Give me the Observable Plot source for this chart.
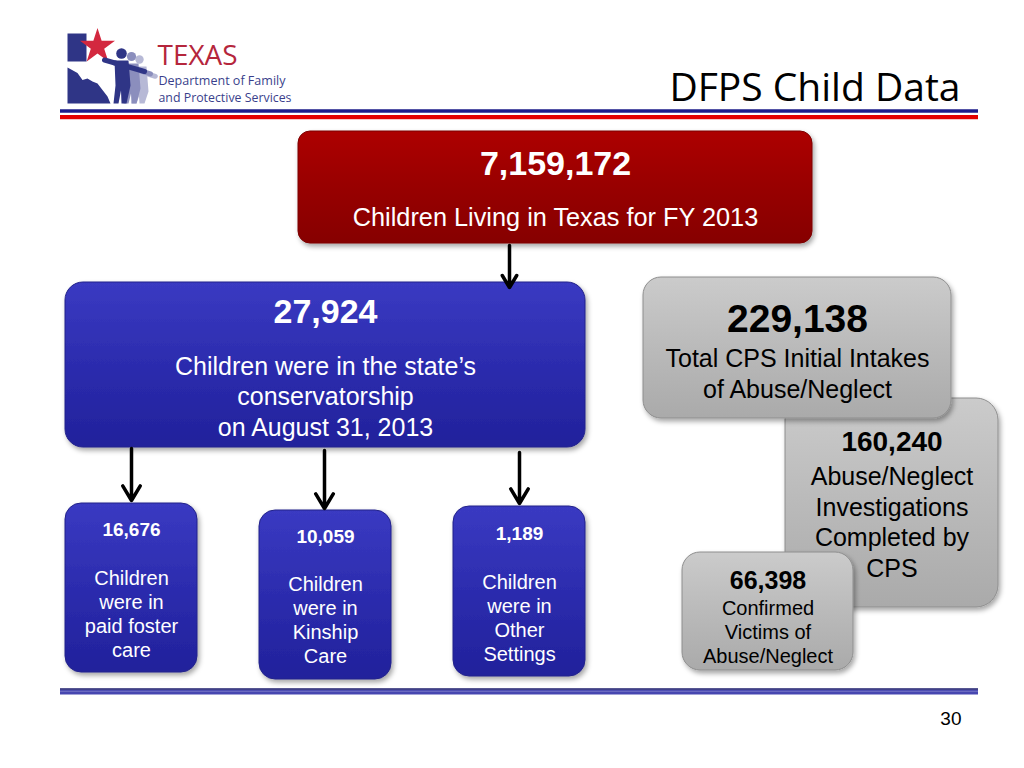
<!DOCTYPE html>
<html>
<head>
<meta charset="utf-8">
<script src="https://cdn.jsdelivr.net/npm/d3@7"></script>
<script src="https://cdn.jsdelivr.net/npm/@observablehq/plot@0.6"></script>
<style>
  html, body { margin: 0; padding: 0; background: #fff; }
  #chart svg { display: block; }
</style>
</head>
<body>
<div id="chart"></div>
<script>
// ---------------- DATA ----------------
const boxIds = ["texas", "conservatorship", "intakes", "investigations", "victims", "foster", "kinship", "other"];
const boxValues = [7159172, 27924, 229138, 160240, 66398, 16676, 10059, 1189];
const boxLabels = [
  "Children Living in Texas for FY 2013",
  "Children were in the state’s\nconservatorship\non August 31, 2013",
  "Total CPS Initial Intakes\nof Abuse/Neglect",
  "Abuse/Neglect\nInvestigations\nCompleted by\nCPS",
  "Confirmed\nVictims of\nAbuse/Neglect",
  "Children\nwere in\npaid foster\ncare",
  "Children\nwere in\nKinship\nCare",
  "Children\nwere in\nOther\nSettings"
];
const flows = [["texas", "conservatorship"], ["conservatorship", "foster"], ["conservatorship", "kinship"], ["conservatorship", "other"]];
const slideTitle = "DFPS Child Data";
const logoTitle = "TEXAS";
const logoLines = ["Department of Family", "and Protective Services"];
const pageNumber = "30";

// ---------------- LAYOUT & STYLE ----------------
const W = 1024, H = 768;
const FONT = "Liberation Sans, Arial, Helvetica, sans-serif";
const red = {fill: "url(#gRed)", stroke: "#7d0000", ink: "#ffffff"};
const blue = {fill: "url(#gBlue)", stroke: "#22228a", ink: "#ffffff"};
const gray = {fill: "url(#gGray)", stroke: "#8e8e8e", ink: "#000000"};
const boxLayout = {
  texas:           {x1: 298, x2: 812, y1: 131, y2: 243, r: 12, ...red,  vy: 164, vs: 34, ly: 216,   ls: 25.3, lh: 1.22},
  conservatorship: {x1: 65,  x2: 585, y1: 282, y2: 447, r: 18, ...blue, vy: 312, vs: 34, ly: 395,   ls: 25, lh: 1.22},
  investigations:  {x1: 785, x2: 998, y1: 398, y2: 607, r: 22, ...gray, vy: 442, vs: 28, ly: 520.5, ls: 25, lh: 1.22},
  intakes:         {x1: 643, x2: 951, y1: 277, y2: 418, r: 18, ...gray, vy: 319, vs: 39, ly: 372.5, ls: 25, lh: 1.24},
  victims:         {x1: 682, x2: 853, y1: 552, y2: 670, r: 18, ...gray, vy: 580, vs: 25, ly: 631,   ls: 20, lh: 1.2},
  foster:          {x1: 65,  x2: 197, y1: 503, y2: 672, r: 16, ...blue, vy: 529, vs: 19, ly: 613,   ls: 20, lh: 1.2},
  kinship:         {x1: 259, x2: 391, y1: 510, y2: 679, r: 16, ...blue, vy: 536, vs: 19, ly: 619,   ls: 20, lh: 1.2},
  other:           {x1: 453, x2: 585, y1: 506, y2: 676, r: 16, ...blue, vy: 533, vs: 19, ly: 617,   ls: 20, lh: 1.2}
};
const drawOrder = ["texas", "conservatorship", "investigations", "intakes", "victims", "foster", "kinship", "other"];
const arrowLayout = [
  {x: 509, y1: 245, y2: 287},
  {x: 131, y1: 448, y2: 500},
  {x: 324, y1: 450, y2: 508},
  {x: 519, y1: 452, y2: 503}
];

// tables built from data + layout
const boxes = boxIds.map((id, i) => ({id, value: boxValues[i], label: boxLabels[i], ...boxLayout[id]}));
const arrows = flows.map(([from, to], i) => ({from, to, ...arrowLayout[i]}));

// logo geometry (decoration)
const panhandle = [[67, 33], [86, 33], [86, 61], [67, 61]];
const texasBody = [[67, 67], [77, 72.5], [82, 79.5], [87, 78], [92, 81], [97, 83], [102, 89.5], [107, 96], [110, 103], [67, 103]];
const figure = [[114, 60], [128, 60], [130, 85], [126, 103], [121, 103], [120.5, 90], [118, 103], [113, 103], [115, 85]];
const people = [
  {dx: 18, dy: 6, hr: 4.2, color: "#b7b9d6"},
  {dx: 10, dy: 3, hr: 4.6, color: "#8b8ebd"},
  {dx: 0, dy: 0, hr: 5.3, color: "#2f3586"}
];

const fmt = d3.format(",");

const boxMarks = drawOrder.flatMap(id => {
  const b = boxes.find(d => d.id === id);
  return [
    Plot.rect([b], {x1: "x1", x2: "x2", y1: "y1", y2: "y2", rx: b.r, fill: b.fill, stroke: b.stroke, strokeWidth: 1, ariaDescription: "box"}),
    Plot.text([b], {x: d => (d.x1 + d.x2) / 2, y: "vy", text: d => fmt(d.value), fontSize: b.vs, fontWeight: "bold", fill: b.ink, fontFamily: FONT, lineAnchor: "middle"}),
    Plot.text([b], {x: d => (d.x1 + d.x2) / 2, y: "ly", text: "label", fontSize: b.ls, lineHeight: b.lh, fill: b.ink, fontFamily: FONT, lineAnchor: "middle"})
  ];
});

const logoMarks = [
  Plot.line(panhandle, {x: d => d[0], y: d => d[1], curve: "linear-closed", fill: "#2f3586", stroke: "none"}),
  Plot.line(texasBody, {x: d => d[0], y: d => d[1], curve: "linear-closed", fill: "#2f3586", stroke: "none"}),
  Plot.dot([[97, 46]], {x: d => d[0], y: d => d[1], symbol: "star", r: 11, fill: "#d3283f", stroke: "none"}),
  ...people.flatMap(p => [
    Plot.line([[104 + p.dx, 59.5 + p.dy], [144 + p.dx * 0.6, 71 + p.dy * 0.8]], {x: d => d[0], y: d => d[1], stroke: p.color, strokeWidth: 5, strokeLinecap: "round"}),
    Plot.line(figure.map(([x, y]) => [x + p.dx, Math.min(103, y + p.dy)]), {x: d => d[0], y: d => d[1], curve: "linear-closed", fill: p.color, stroke: "none"}),
    Plot.dot([[121 + p.dx, 53 + p.dy]], {x: d => d[0], y: d => d[1], r: p.hr, fill: p.color, stroke: "none"})
  ]),
  Plot.text([logoTitle], {x: 157, y: 55.5, text: d => d, textAnchor: "start", fontSize: 28, fill: "#b5263c", fontFamily: "Open Sans, sans-serif", lineAnchor: "middle", ariaDescription: "logo-title"}),
  Plot.text([logoLines[0]], {x: 158, y: 80, text: d => d, textAnchor: "start", fontSize: 13.5, fill: "#3a3f8c", fontFamily: "Open Sans, sans-serif", lineAnchor: "middle", ariaDescription: "logo-l1"}),
  Plot.text([logoLines[1]], {x: 158, y: 97, text: d => d, textAnchor: "start", fontSize: 13.5, fill: "#3a3f8c", fontFamily: "Open Sans, sans-serif", lineAnchor: "middle", ariaDescription: "logo-l2"})
];

const frameMarks = [
  Plot.ruleY([110.5], {x1: 60, x2: 978, stroke: "#1c1c8a", strokeWidth: 3.5}),
  Plot.ruleY([116.5], {x1: 60, x2: 978, stroke: "#e30000", strokeWidth: 4}),
  Plot.ruleY([119], {x1: 60, x2: 978, stroke: "#f6c6c6", strokeWidth: 1}),
  Plot.ruleY([691.5], {x1: 60, x2: 978, stroke: "#4747b0", strokeWidth: 5}),
  Plot.ruleY([690.8], {x1: 60, x2: 978, stroke: "#7373c6", strokeWidth: 1}),
  Plot.ruleY([688.5], {x1: 60, x2: 978, stroke: "#1f1f6e", strokeWidth: 1.5}),
  Plot.text([slideTitle], {x: 960, y: 88, text: d => d, textAnchor: "end", fontSize: 39, fill: "#000", fontFamily: "Open Sans, sans-serif", lineAnchor: "middle"}),
  Plot.text([pageNumber], {x: 961, y: 718, text: d => d, textAnchor: "end", fontSize: 19, fill: "#000", fontFamily: FONT, lineAnchor: "middle"})
];

const svg = Plot.plot({
  width: W,
  height: H,
  margin: 0,
  x: {domain: [0, W], range: [0, W], axis: null},
  y: {domain: [0, H], range: [0, H], axis: null},
  style: {background: "#ffffff", overflow: "visible"},
  marks: [
    ...frameMarks,
    ...logoMarks,
    ...boxMarks,
    Plot.arrow(arrows, {x1: "x", x2: "x", y1: "y1", y2: "y2", stroke: "#000", strokeWidth: 3.5, headLength: 7.3, headAngle: 62})
  ]
});

// gradients and shadow
d3.select(svg).insert("defs", ":first-child").html(`
  <linearGradient id="gRed" x1="0" y1="0" x2="0" y2="1">
    <stop offset="0" stop-color="#ad0606"/><stop offset="0.5" stop-color="#980000"/><stop offset="1" stop-color="#860000"/>
  </linearGradient>
  <linearGradient id="gBlue" x1="0" y1="0" x2="0" y2="1">
    <stop offset="0" stop-color="#3a3ac2"/><stop offset="0.5" stop-color="#2c2cae"/><stop offset="1" stop-color="#21219b"/>
  </linearGradient>
  <linearGradient id="gGray" x1="0" y1="0" x2="0" y2="1">
    <stop offset="0" stop-color="#cbcbcb"/><stop offset="0.5" stop-color="#bababa"/><stop offset="1" stop-color="#aaaaaa"/>
  </linearGradient>
  <filter id="shadow" x="-10%" y="-10%" width="125%" height="130%">
    <feDropShadow dx="2" dy="3" stdDeviation="2.5" flood-color="#000" flood-opacity="0.35"/>
  </filter>`);
d3.select(svg).selectAll('g[aria-description="box"] rect').attr("filter", "url(#shadow)");
const fitText = (desc, len) => d3.select(svg).selectAll(`g[aria-description="${desc}"] text`).attr("textLength", len).attr("lengthAdjust", "spacingAndGlyphs");
fitText("logo-title", 80);
fitText("logo-l1", 127);
fitText("logo-l2", 133);

document.getElementById("chart").appendChild(svg);
</script>
</body>
</html>
